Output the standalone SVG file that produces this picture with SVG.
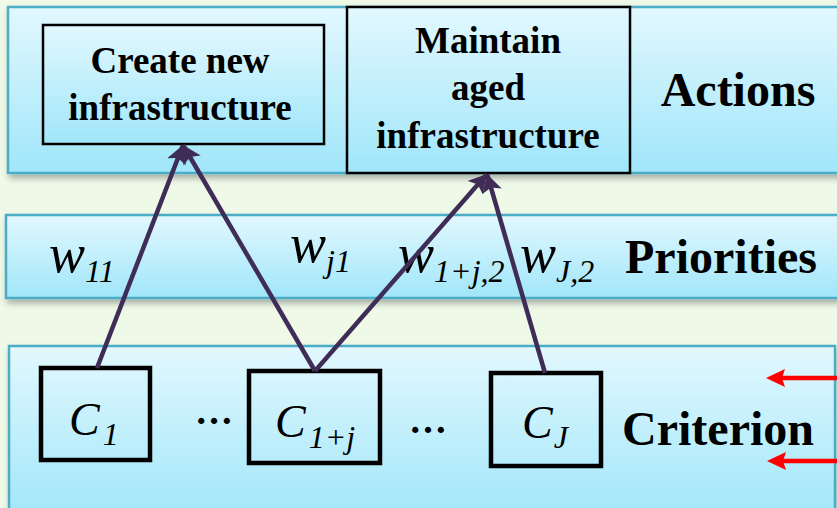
<svg xmlns="http://www.w3.org/2000/svg" width="837" height="508" viewBox="0 0 837 508">
<defs>
<linearGradient id="bandGrad" x1="0" y1="0" x2="0" y2="1">
<stop offset="0" stop-color="#E2F8FE"/>
<stop offset="1" stop-color="#A0E6FA"/>
</linearGradient>
<filter id="shadow" x="-5%" y="-10%" width="110%" height="130%">
<feDropShadow dx="2" dy="4" stdDeviation="3" flood-color="#000" flood-opacity="0.3"/>
</filter>
<marker id="arrowDark" markerUnits="userSpaceOnUse" markerWidth="20" markerHeight="22" refX="18" refY="10" orient="auto">
<path d="M0,0 L18,10 L0,20 L4,10 Z" fill="#3F2D58"/>
</marker>
</defs>
<style>
.band{fill:url(#bandGrad);stroke:#4BACC6;stroke-width:2.5;filter:url(#shadow)}
.abox{fill:url(#bandGrad);stroke:#000;stroke-width:2.5}
.cbox{fill:none;stroke:#000;stroke-width:4.5}
.lbl{font-family:'Liberation Serif','Times New Roman',Times,serif;font-weight:bold;fill:#000}
.math{font-family:'Liberation Serif','Times New Roman',Times,serif;font-style:italic;fill:#000}
.conn{stroke:#3F2D58;stroke-width:4.5;fill:none;marker-end:url(#arrowDark)}
.red{stroke:#FF0000;stroke-width:4.5;fill:none}
.redhead{fill:#FF0000}
</style>
<rect width="837" height="508" fill="#EEF9E8"/>

<g id="band-actions">
<rect class="band" x="8" y="7" width="840" height="166"/>
<text class="lbl" x="738" y="106" font-size="48" text-anchor="middle">Actions</text>
</g>
<g id="band-priorities">
<rect class="band" x="6" y="215" width="840" height="83"/>
<text class="lbl" x="721" y="273" font-size="48" text-anchor="middle">Priorities</text>
</g>
<g id="band-criterion">
<rect class="band" x="9" y="346" width="826" height="175"/>
<text class="lbl" x="718" y="445" font-size="48" text-anchor="middle">Criterion</text>
</g>

<g id="node-create">
<rect class="abox" x="43" y="25" width="281" height="119"/>
<text class="lbl" font-size="37" text-anchor="middle"><tspan x="180" y="73">Create new</tspan><tspan x="180" y="120">infrastructure</tspan></text>
</g>
<g id="node-maintain">
<rect class="abox" x="347" y="7" width="283" height="166"/>
<text class="lbl" font-size="37" text-anchor="middle"><tspan x="488" y="53">Maintain</tspan><tspan x="488" y="100">aged</tspan><tspan x="488" y="148">infrastructure</tspan></text>
</g>

<g id="node-c1">
<rect class="cbox" x="41" y="368" width="109" height="92"/>
<text class="math" x="69" y="435" font-size="46">C<tspan font-size="32" dx="3" dy="10">1</tspan></text>
</g>
<g id="node-c1j">
<rect class="cbox" x="249" y="371" width="131" height="92"/>
<text class="math" x="275" y="437" font-size="46">C<tspan font-size="32" dx="3" dy="11">1+j</tspan></text>
</g>
<g id="node-cJ">
<rect class="cbox" x="491" y="373" width="110" height="93"/>
<text class="math" x="522" y="438" font-size="46">C<tspan font-size="32" dx="1" dy="10">J</tspan></text>
</g>
<g id="ellipses">
<text class="lbl" x="214" y="424" font-size="38" text-anchor="middle">…</text>
<text class="lbl" x="428" y="433" font-size="38" text-anchor="middle">…</text>
</g>

<g id="weights">
<text class="math" x="49" y="272" font-size="54">w<tspan font-size="32" dy="10">11</tspan></text>
<text class="math" x="290" y="262" font-size="54">w<tspan font-size="32" dy="10">j1</tspan></text>
<text class="math" x="398" y="272" font-size="54">w<tspan font-size="32" dy="10">1+j,2</tspan></text>
<text class="math" x="520" y="272" font-size="54">w<tspan font-size="32" dy="10">J,2</tspan></text>
</g>

<g id="connectors">
<line class="conn" x1="97" y1="368" x2="183" y2="145"/>
<line class="conn" x1="315" y1="371" x2="183" y2="145"/>
<line class="conn" x1="315" y1="371" x2="487" y2="174"/>
<line class="conn" x1="545" y1="373" x2="487" y2="174"/>
<line class="red" x1="840" y1="378" x2="782" y2="378"/>
<path class="redhead" d="M766,378 L785,369 L782,378 L785,387 Z"/>
<line class="red" x1="840" y1="461" x2="783" y2="461"/>
<path class="redhead" d="M767,461 L786,452 L783,461 L786,470 Z"/>
</g>
</svg>
